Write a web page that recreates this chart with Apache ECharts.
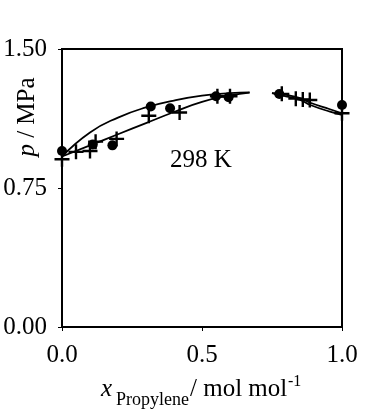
<!DOCTYPE html>
<html>
<head>
<meta charset="utf-8">
<script src="https://cdn.jsdelivr.net/npm/echarts@6/dist/echarts.min.js"></script>
<style>html,body{margin:0;padding:0;background:#fff}#c{width:367px;height:418px}</style>
</head>
<body>
<div id="c"></div>
<script>
// Data
var circlesX = [0, 0.11, 0.18, 0.317, 0.386, 0.55, 0.595, 0.776, 1.0];
var circlesP = [0.95, 0.985, 0.98, 1.19, 1.18, 1.245, 1.24, 1.257, 1.198];
var crossesX = [0, 0.05, 0.1, 0.12, 0.195, 0.31, 0.42, 0.555, 0.6, 0.785, 0.835, 0.86, 0.885, 1.0];
var crossesP = [0.905, 0.945, 0.95, 1.0, 1.015, 1.14, 1.157, 1.245, 1.245, 1.258, 1.232, 1.228, 1.225, 1.153];
var upperLeftX = [0, 0.1, 0.2, 0.3, 0.4, 0.5, 0.6, 0.67];
var upperLeftP = [0.92, 1.05, 1.13, 1.185, 1.222, 1.248, 1.262, 1.266];
var lowerLeftX = [0, 0.1, 0.2, 0.3, 0.4, 0.5, 0.6, 0.67];
var lowerLeftP = [0.92, 0.98, 1.04, 1.10, 1.16, 1.215, 1.25, 1.265];
var upperRightX = [0.75, 0.8, 0.85, 0.887, 0.957, 1.0];
var upperRightP = [1.262, 1.252, 1.235, 1.21, 1.175, 1.153];
var lowerRightX = [0.75, 0.8, 0.85, 0.887, 0.957, 1.0];
var lowerRightP = [1.262, 1.245, 1.225, 1.198, 1.162, 1.145];
var xTicks = [0, 0.5, 1.0];
var yTicks = [0, 0.75, 1.5];

function pairs(xs, ys) { return xs.map(function (x, i) { return [x, ys[i]]; }); }

var FONT = '"Liberation Serif", "Times New Roman", serif';
var plusPath = 'path://M0,6.3H6.3V0H8.7V6.3H15V8.7H8.7V15H6.3V8.7H0Z';

function curve(xs, ys) {
  return {
    type: 'line', data: pairs(xs, ys), smooth: true, showSymbol: false,
    symbol: 'none', lineStyle: { color: '#000', width: 1.8, opacity: 1 }, silent: true, z: 2
  };
}

var chart = echarts.init(document.getElementById('c'), null, { renderer: 'canvas' });
chart.setOption({
  animation: false,
  backgroundColor: '#fff',
  grid: { left: 62, right: 25, top: 49, bottom: 91, containLabel: false, outerBoundsMode: 'none',
          show: true, borderColor: '#000', borderWidth: 2, backgroundColor: 'transparent' },
  xAxis: {
    type: 'value', min: xTicks[0], max: xTicks[2], interval: 0.5,
    axisLine: { show: true, lineStyle: { color: '#000', width: 2 } },
    axisTick: { show: true, inside: false, length: 4, lineStyle: { color: '#000', width: 1 } },
    splitLine: { show: false },
    axisLabel: { margin: 16, fontSize: 25, fontFamily: FONT, color: '#000',
                 formatter: function (v) { return v.toFixed(1); } }
  },
  yAxis: {
    type: 'value', min: yTicks[0], max: yTicks[2], interval: 0.75,
    axisLine: { show: true, lineStyle: { color: '#000', width: 2 } },
    axisTick: { show: true, inside: false, length: 4, lineStyle: { color: '#000', width: 1 } },
    splitLine: { show: false },
    axisLabel: { margin: 15, fontSize: 25, fontFamily: FONT, color: '#000',
                 formatter: function (v) { return v.toFixed(2); } }
  },
  series: [
    curve(upperLeftX, upperLeftP),
    curve(lowerLeftX, lowerLeftP),
    curve(upperRightX, upperRightP),
    curve(lowerRightX, lowerRightP),
    { type: 'scatter', data: pairs(crossesX, crossesP), symbol: plusPath, symbolSize: 15,
      itemStyle: { color: '#000', opacity: 1 }, z: 3 },
    { type: 'scatter', data: pairs(circlesX, circlesP), symbol: 'circle', symbolSize: 10,
      itemStyle: { color: '#000', opacity: 1 }, z: 4 }
  ],
  graphic: [
    { type: 'text', x: 201, y: 160, style: { text: '298 K', font: '25px ' + FONT, fill: '#000',
      align: 'center', verticalAlign: 'middle' } },
    { type: 'text', x: 27, y: 117, rotation: Math.PI / 2,
      style: { text: '{i|p}{n| / MPa}', align: 'center', verticalAlign: 'middle', fill: '#000',
        rich: { i: { fontFamily: FONT, fontSize: 25, fontStyle: 'italic', fill: '#000' },
                n: { fontFamily: FONT, fontSize: 25, fill: '#000' } } } },
    { type: 'text', x: 101, y: 389, style: { text: 'x', font: 'italic 25px ' + FONT, fill: '#000',
      align: 'left', verticalAlign: 'middle' } },
    { type: 'text', x: 116, y: 400, style: { text: 'Propylene', font: '18px ' + FONT, fill: '#000',
      align: 'left', verticalAlign: 'middle' } },
    { type: 'text', x: 190, y: 389, style: { text: '/ mol mol', font: '25px ' + FONT, fill: '#000',
      align: 'left', verticalAlign: 'middle' } },
    { type: 'text', x: 288, y: 382, style: { text: '-1', font: '16px ' + FONT, fill: '#000',
      align: 'left', verticalAlign: 'middle' } }
  ]
});
</script>
</body>
</html>
